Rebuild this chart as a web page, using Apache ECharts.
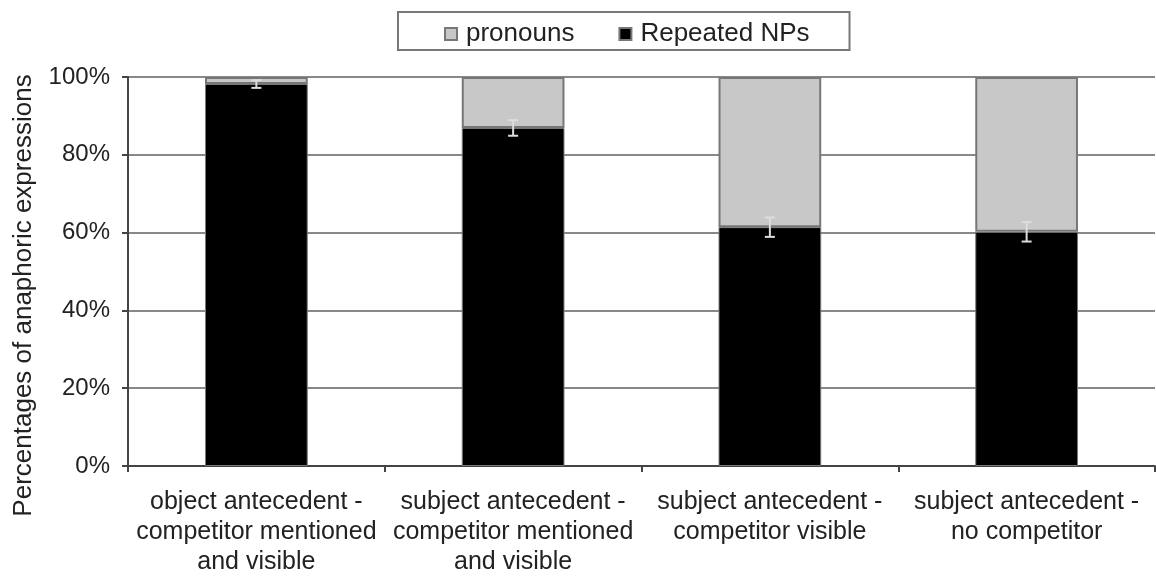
<!DOCTYPE html>
<html>
<head>
<meta charset="utf-8">
<script src="https://cdn.jsdelivr.net/npm/echarts@6/dist/echarts.min.js"></script>
<style>
  html, body { margin: 0; padding: 0; background: #fff; }
  #main { width: 1156px; height: 576px; }
</style>
</head>
<body>
<div id="main"></div>
<script>
var categories = [
  'object antecedent -\ncompetitor mentioned\nand visible',
  'subject antecedent -\ncompetitor mentioned\nand visible',
  'subject antecedent -\ncompetitor visible',
  'subject antecedent -\nno competitor'
];
var repeatedNPs = [98.2, 86.9, 61.4, 60.2];
var pronouns = [1.8, 13.1, 38.6, 39.8];
var errors = [1.0, 2.0, 2.5, 2.5];
var yTicks = [0, 20, 40, 60, 80, 100];

window.onload = function(){
  var chart = echarts.init(document.getElementById('main'));
  var font = 'Arial, "Liberation Sans", sans-serif';

  var errData = [];
  for(var i=0;i<categories.length;i++){
    errData.push([i, repeatedNPs[i], errors[i]]);
  }

  var opt = {
    animation: false,
    textStyle: { fontFamily: font },
    legend: {
      data: ['pronouns', 'Repeated NPs'],
      icon: 'rect',
      left: 398,
      top: 12,
      padding: [9, 40, 3, 46],
      itemGap: 44,
      itemWidth: 12,
      itemHeight: 12,
      borderColor: '#777',
      borderWidth: 2,
      textStyle: { fontSize: 26, color: '#222', fontFamily: font, padding: [4, 0, 0, 4] }
    },
    grid: { left: 128, right: 1, top: 77, bottom: 110, outerBoundsMode: 'none' },
    xAxis: {
      type: 'category',
      data: categories,
      axisLine: { lineStyle: { color: '#444', width: 2 } },
      axisTick: { show: true, length: 6, lineStyle: { color: '#444', width: 2 } },
      axisLabel: { fontSize: 25, color: '#222', lineHeight: 30, margin: 21, interval: 0 }
    },
    yAxis: {
      type: 'value',
      min: 0, max: 100, interval: 20,
      name: 'Percentages of anaphoric expressions',
      nameLocation: 'middle',
      nameGap: 91,
      nameTextStyle: { fontSize: 26, color: '#222', padding: [0, 48, 0, 0] },
      axisLine: { show: true, lineStyle: { color: '#444', width: 2 } },
      axisTick: { show: true, length: 6, inside: false, lineStyle: { color: '#444', width: 2 } },
      axisLabel: {
        fontSize: 24, color: '#222', margin: 18,
        formatter: function(v){ return yTicks.indexOf(v) >= 0 ? v + '%' : ''; }
      },
      splitLine: { lineStyle: { color: '#888', width: 2 } }
    },
    series: [
      {
        name: 'Repeated NPs',
        type: 'bar',
        stack: 'total',
        barWidth: '40%',
        data: repeatedNPs,
        itemStyle: { color: '#000', borderColor: '#777', borderWidth: 1 }
      },
      {
        name: 'pronouns',
        type: 'bar',
        stack: 'total',
        data: pronouns,
        itemStyle: { color: '#c8c8c8', borderColor: '#777', borderWidth: 2 }
      },
      {
        name: 'err',
        type: 'custom',
        z: 10,
        data: errData,
        renderItem: function(params, api){
          var x = api.value(0), y = api.value(1), e = api.value(2);
          var hi = api.coord([x, y + e]);
          var lo = api.coord([x, y - e]);
          var w = 5;
          var st = { stroke: '#ddd', lineWidth: 2 };
          return {
            type: 'group',
            children: [
              { type: 'line', shape: { x1: hi[0], y1: hi[1], x2: lo[0], y2: lo[1] }, style: st },
              { type: 'line', shape: { x1: hi[0]-w, y1: hi[1], x2: hi[0]+w, y2: hi[1] }, style: st },
              { type: 'line', shape: { x1: lo[0]-w, y1: lo[1], x2: lo[0]+w, y2: lo[1] }, style: st }
            ]
          };
        }
      }
    ]
  };

  chart.setOption(opt);
};
</script>
</body>
</html>
